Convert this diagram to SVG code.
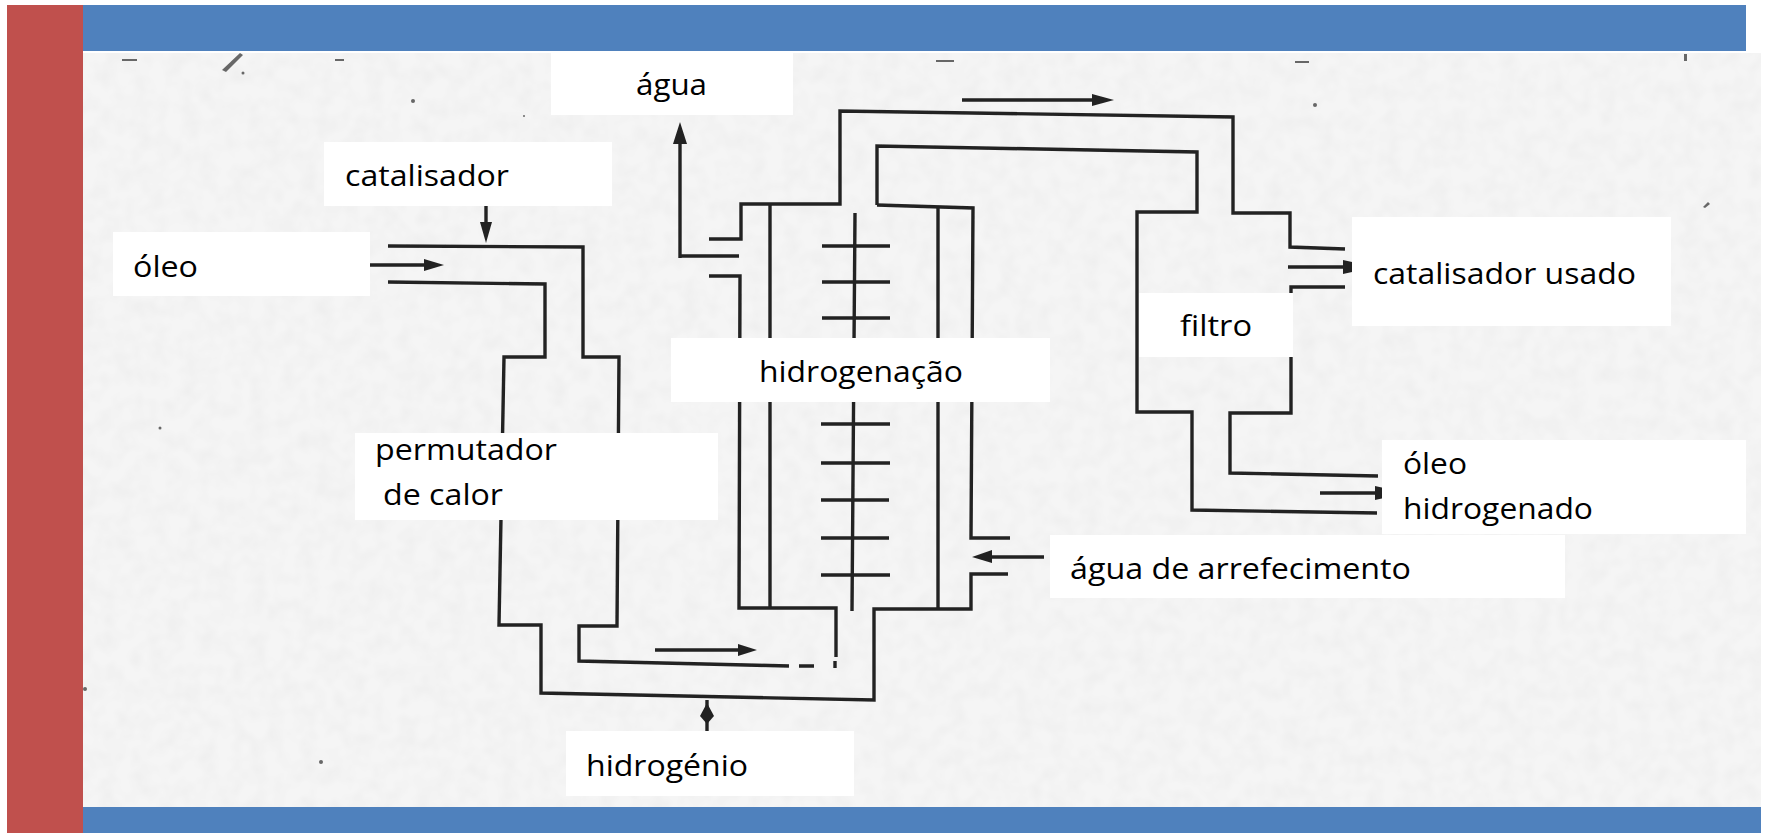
<svg xmlns="http://www.w3.org/2000/svg" width="1768" height="833" viewBox="0 0 1768 833">
<style>
.p{fill:none;stroke:#222;stroke-width:3.4;stroke-linejoin:miter}
.h{fill:#222}
.b{fill:#fff}
.t{font-family:"Open Sans","Noto Sans","Liberation Sans",sans-serif;font-size:30px;fill:#000}
</style>
<defs>
<filter id="noise" x="0" y="0" width="100%" height="100%">
<feTurbulence type="fractalNoise" baseFrequency="0.06" numOctaves="2" seed="4"/>
<feColorMatrix type="matrix" values="0 0 0 0 0.6  0 0 0 0 0.6  0 0 0 0 0.6  0.26 0 0 0 -0.09"/>
</filter>
<filter id="soft" x="-2%" y="-2%" width="104%" height="104%"><feGaussianBlur stdDeviation="0.7"/></filter>
</defs>
<rect width="1768" height="833" fill="#fff"/>
<rect id="photo" x="83" y="53" width="1678" height="754" fill="#f5f5f5"/>
<rect x="83" y="53" width="1678" height="754" filter="url(#noise)"/>
<g id="specks" fill="#444" opacity="0.8" filter="url(#soft)">
<path d="M222 70L240 53L243 55L226 72Z"/>
<rect x="122" y="59" width="15" height="2"/><rect x="335" y="59" width="9" height="2"/>
<rect x="936" y="60" width="18" height="2"/><rect x="1295" y="61" width="14" height="2"/>
<rect x="1684" y="54" width="3" height="7"/>
<circle cx="243" cy="73" r="1.5"/><circle cx="413" cy="101" r="2"/><circle cx="524" cy="116" r="1"/>
<circle cx="1315" cy="105" r="2"/><path d="M1703 207L1708 202L1710 204L1705 208Z"/><circle cx="160" cy="428" r="1.5"/>
<circle cx="85" cy="689" r="2"/><circle cx="321" cy="762" r="2"/>
</g>
<g id="connectors" filter="url(#soft)">
<path class="p" d="M388 246L583 247V357H619L617 626H579V661L789 666M799 666H814"/>
<path class="p" d="M388 282L545 284V357H504L499 625H541V693L874 700V609H971V574H1008"/>
<path class="p" d="M709 239H741V204H840V111L1233 117V213H1290V247L1345 249"/>
<path class="p" d="M709 276H740L739 608H836V657M835 661V668"/>
<path class="p" d="M770 204V608M938 208V608"/>
<path class="p" d="M877 205L877 146L1197 152V212H1137V412H1192V510L1377 513"/>
<path class="p" d="M877 205L973 208L971 538H1010"/>
<path class="p" d="M1345 287H1291V413H1230V473L1378 476"/>
<path class="p" d="M855 213L852 611M822 246H890M822 282H890M822 318H890M821 424H890M821 463H890M821 500H889M821 538H889M821 575H890"/>
<path class="p" d="M486 206V232M370 265H430M680 256H739M680 258V140M962 100H1098M655 650H745M707 731V700M1044 557H988M1288 267H1350M1320 493H1382"/>
<path class="h" d="M480 222H492L486 243ZM424 259L444 265L424 271ZM673 144L680 122L687 144ZM1092 94L1114 100L1092 106ZM738 644L757 650L738 656ZM700 716L707 703L714 716L707 724ZM992 550L972 557L992 563ZM1343 260L1352 262V272L1343 274ZM1375 486L1384 488V498L1375 500Z"/>
</g>
<g id="n-agua"><rect class="b" x="551" y="53" width="242" height="62"/><text class="t" x="636" y="95" textLength="71" lengthAdjust="spacingAndGlyphs">água</text></g>
<g id="n-catalisador"><rect class="b" x="324" y="142" width="288" height="64"/><text class="t" x="345" y="186" textLength="164" lengthAdjust="spacingAndGlyphs">catalisador</text></g>
<g id="n-oleo"><rect class="b" x="113" y="232" width="257" height="64"/><text class="t" x="133" y="277" textLength="65" lengthAdjust="spacingAndGlyphs">óleo</text></g>
<g id="n-permutador"><rect class="b" x="355" y="433" width="363" height="87"/><text class="t" x="375" y="460" textLength="182" lengthAdjust="spacingAndGlyphs">permutador</text><text class="t" x="383" y="505" textLength="120" lengthAdjust="spacingAndGlyphs">de calor</text></g>
<g id="n-hidrogenacao"><rect class="b" x="671" y="338" width="379" height="64"/><text class="t" x="759" y="382" textLength="204" lengthAdjust="spacingAndGlyphs">hidrogenação</text></g>
<g id="n-filtro"><rect class="b" x="1139" y="293" width="154" height="64"/><text class="t" x="1180" y="336" textLength="72" lengthAdjust="spacingAndGlyphs">filtro</text></g>
<g id="n-catalisador-usado"><rect class="b" x="1352" y="217" width="319" height="109"/><text class="t" x="1373" y="284" textLength="263" lengthAdjust="spacingAndGlyphs">catalisador usado</text></g>
<g id="n-oleo-hidrogenado"><rect class="b" x="1382" y="440" width="364" height="94"/><text class="t" x="1403" y="474" textLength="64" lengthAdjust="spacingAndGlyphs">óleo</text><text class="t" x="1403" y="519" textLength="190" lengthAdjust="spacingAndGlyphs">hidrogenado</text></g>
<g id="n-agua-arrefecimento"><rect class="b" x="1050" y="535" width="515" height="63"/><text class="t" x="1070" y="579" textLength="341" lengthAdjust="spacingAndGlyphs">água de arrefecimento</text></g>
<g id="n-hidrogenio"><rect class="b" x="566" y="731" width="288" height="65"/><text class="t" x="586" y="776" textLength="162" lengthAdjust="spacingAndGlyphs">hidrogénio</text></g>
<rect id="bar-top" x="83" y="5" width="1663" height="46" fill="#4f81bd"/>
<rect id="bar-bottom" x="83" y="807" width="1678" height="26" fill="#4f81bd"/>
<rect id="bar-left" x="7" y="5" width="76" height="828" fill="#c0504d"/>
</svg>
